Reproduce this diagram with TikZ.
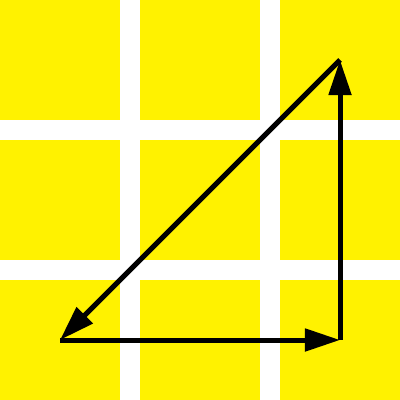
\documentclass[tikz,border=0pt]{standalone}
\usepackage{xcolor}
\usepackage{tikz}
\usetikzlibrary{arrows.meta}
\definecolor{tileyellow}{RGB}{255,242,0}

\begin{document}
\begin{tikzpicture}[
    x=0.025cm, y=-0.025cm,
    tile/.style={fill=tileyellow, draw=none},
    arrow/.style={-{Triangle[length=0.875cm, width=0.55cm]}, line width=0.125cm, black}
  ]
  \useasboundingbox (0,0) rectangle (400,400);
  \fill[white] (0,0) rectangle (400,400);
  % tiles
  \foreach \i in {0,1,2} {
    \foreach \j in {0,1,2} {
      \fill[tile] (140*\i,140*\j) rectangle ++(120,120);
    }
  }
  \coordinate (bl) at (60,340);
  \coordinate (br) at (340,340);
  \coordinate (tr) at (340,60);

  \draw[arrow] (bl) -- (br);
  \draw[arrow] (br) -- (tr);
  \draw[arrow] (tr) -- (bl);
\end{tikzpicture}
\end{document}
